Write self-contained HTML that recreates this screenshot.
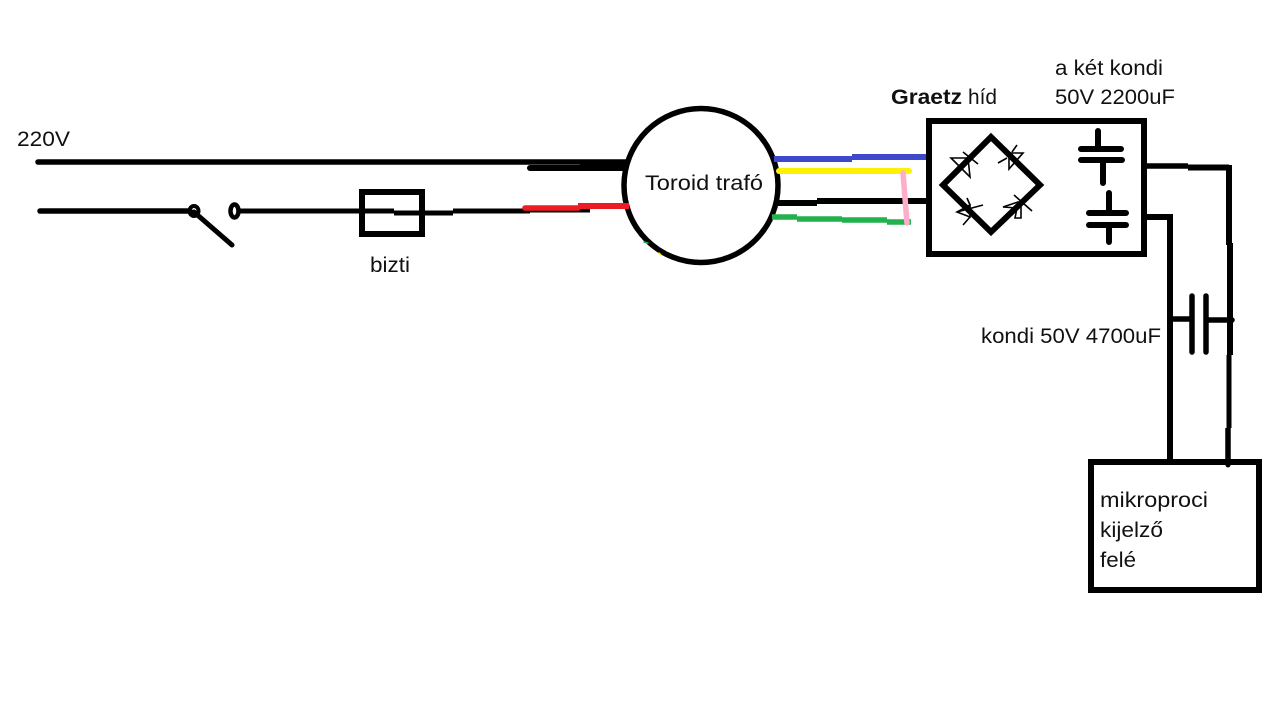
<!DOCTYPE html>
<html>
<head>
<meta charset="utf-8">
<style>
html,body{margin:0;padding:0;background:#fff;width:1280px;height:725px;overflow:hidden}
svg{display:block}
text{font-family:"Liberation Sans",sans-serif;font-size:21px;fill:#111}
</style>
</head>
<body>
<svg width="1280" height="725" viewBox="0 0 1280 725" xmlns="http://www.w3.org/2000/svg">
<rect width="1280" height="725" fill="#fff"/>
<g fill="none" stroke="#000" stroke-linecap="round" stroke-linejoin="miter">
  <!-- toroid -->
  <circle cx="701" cy="185.500" r="77" stroke-width="5.500" fill="#fff"/>
  <path d="M644 242l4 1" stroke="#22b14c" stroke-width="1.500"/>
  <path d="M659 253l2 2" stroke="#fff200" stroke-width="1.500"/>
  <!-- mains lines -->
  <path d="M38 162H626" stroke-width="5.500"/>
  <path d="M530 168H580" stroke-width="6"/>
  <path d="M580 166H626" stroke-width="10" stroke-linecap="butt"/>
  <path d="M40 211H190" stroke-width="5.500"/>
  <path d="M194 212L232 245" stroke-width="5"/>
  <path d="M240 211H394" stroke-width="5" stroke-linecap="butt"/>
  <path d="M394 213H453" stroke-width="5" stroke-linecap="butt"/>
  <path d="M453 211H530" stroke-width="5" stroke-linecap="butt"/>
  <path d="M530 210H590" stroke-width="5" stroke-linecap="butt"/>
  <ellipse cx="194" cy="211" rx="4.500" ry="5" stroke-width="4"/>
  <ellipse cx="234.500" cy="211" rx="4" ry="6.500" stroke-width="4.500" fill="#fff"/>
  <rect x="362" y="192" width="60" height="42" stroke-width="6"/>
  <!-- red lead -->
  <path d="M525 208H578" stroke="#ed1c24" stroke-width="5.500"/>
  <path d="M578 206H629" stroke="#ed1c24" stroke-width="6" stroke-linecap="butt"/>
  <!-- secondary leads -->
  <path d="M774 159H852" stroke="#3f48cc" stroke-width="6" stroke-linecap="butt"/>
  <path d="M852 157H928" stroke="#3f48cc" stroke-width="6" stroke-linecap="butt"/>
  <path d="M779 171H909" stroke="#fff200" stroke-width="6"/>
  <path d="M776 203H817" stroke-width="6" stroke-linecap="butt"/>
  <path d="M817 201H928" stroke-width="6" stroke-linecap="butt"/>
  <path d="M772 217H797" stroke="#22b14c" stroke-width="5.500" stroke-linecap="butt"/>
  <path d="M797 219H842" stroke="#22b14c" stroke-width="5.500" stroke-linecap="butt"/>
  <path d="M842 220H887" stroke="#22b14c" stroke-width="5.500" stroke-linecap="butt"/>
  <path d="M887 222H911" stroke="#22b14c" stroke-width="5.500" stroke-linecap="butt"/>
  <path d="M903 173L907 223" stroke="#ffaec9" stroke-width="5.500"/>
  <!-- bridge box -->
  <rect x="929" y="121" width="215" height="133" stroke-width="6" fill="#fff"/>
  <!-- diodes -->
  <g stroke-width="1.600" fill="#fff" stroke-linecap="butt">
    <path d="M951 158L968 158L970 177Z"/>
    <path d="M963 152L978 164"/>
    <path d="M1009 153L1023 153L1009 169Z"/>
    <path d="M998 163L1007 158M1017 145L1012 152"/>
    <path d="M957 212L970 205L970 217Z"/>
    <path d="M967 198L970 205M957 212L983 205M963 225L970 217"/>
    <path d="M1003 207L1018 202L1021 205L1021 218L1015 218L1017 208Z"/>
    <path d="M1014 195L1032 211"/>
  </g>
  <!-- bridge diamond -->
  <path d="M991 137L1040 185L991 232L943 185Z" stroke-width="6"/>
  <!-- box caps -->
  <g stroke-width="6">
    <path d="M1098 131V149M1081 149H1121M1081 160H1122M1103 160V183"/>
    <path d="M1109 193V213M1089 213H1126M1089 225H1126M1109 225V242"/>
  </g>
  <!-- output wires -->
  <path d="M1147 166H1188" stroke-width="5.500" stroke-linecap="butt"/>
  <path d="M1188 167.500H1229" stroke-width="6" stroke-linecap="butt"/>
  <path d="M1229 165V245" stroke-width="6" stroke-linecap="butt"/>
  <path d="M1230 243V355" stroke-width="6" stroke-linecap="butt"/>
  <path d="M1229 355V428" stroke-width="5" stroke-linecap="butt"/>
  <path d="M1228 428V465" stroke-width="5.500" stroke-linecap="butt"/>
  <path d="M1147 217H1170" stroke-width="6" stroke-linecap="butt"/>
  <path d="M1170 214V460" stroke-width="6" stroke-linecap="butt"/>
  <!-- external cap -->
  <path d="M1172 319H1190" stroke-width="5.500" stroke-linecap="butt"/>
  <path d="M1208 320H1232" stroke-width="5.500"/>
  <path d="M1192 296V352M1206 296V352" stroke-width="5.500"/>
  <!-- micro box -->
  <rect x="1091" y="462" width="168" height="128" stroke-width="6" fill="#fff"/>
  <path d="M1228 460V465" stroke-width="5"/>
</g>
<text x="17" y="146" textLength="53" lengthAdjust="spacingAndGlyphs">220V</text>
<text x="370" y="272" textLength="40" lengthAdjust="spacingAndGlyphs">bizti</text>
<text x="645" y="190" textLength="118" lengthAdjust="spacingAndGlyphs">Toroid trafó</text>
<text x="891" y="104" textLength="71" lengthAdjust="spacingAndGlyphs" font-weight="bold">Graetz</text>
<text x="968" y="104" textLength="29" lengthAdjust="spacingAndGlyphs">híd</text>
<text x="1055" y="75" textLength="108" lengthAdjust="spacingAndGlyphs">a két kondi</text>
<text x="1055" y="104" textLength="120" lengthAdjust="spacingAndGlyphs">50V 2200uF</text>
<text x="981" y="343" textLength="180" lengthAdjust="spacingAndGlyphs">kondi 50V 4700uF</text>
<text x="1100" y="507" textLength="108" lengthAdjust="spacingAndGlyphs">mikroproci</text>
<text x="1100" y="537" textLength="63" lengthAdjust="spacingAndGlyphs">kijelző</text>
<text x="1100" y="567" textLength="36" lengthAdjust="spacingAndGlyphs">felé</text>
</svg>
</body>
</html>
